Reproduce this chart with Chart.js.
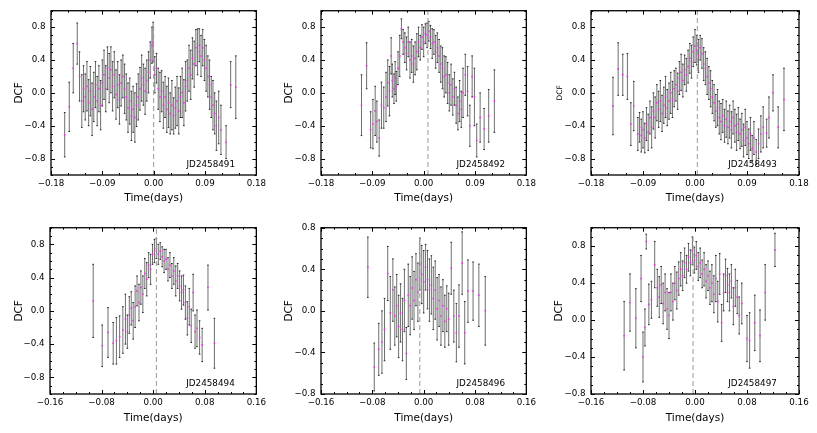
<!DOCTYPE html>
<html>
<head>
<meta charset="utf-8">
<script src="https://cdn.jsdelivr.net/npm/chart.js@4.4.0/dist/chart.umd.min.js"></script>
<style>
  html, body { margin: 0; padding: 0; background: #fff; }
  #wrap { position: relative; width: 817px; height: 433px; overflow: hidden; }
  .cell { position: absolute; }
</style>
</head>
<body>
<div id="wrap">
  <div class="cell" style="left:0;top:0;width:270px;height:217px"><canvas id="c491"></canvas></div>
  <div class="cell" style="left:270px;top:0;width:270px;height:217px"><canvas id="c492"></canvas></div>
  <div class="cell" style="left:540px;top:0;width:277px;height:217px"><canvas id="c493"></canvas></div>
  <div class="cell" style="left:0;top:217px;width:270px;height:216px"><canvas id="c494"></canvas></div>
  <div class="cell" style="left:270px;top:217px;width:270px;height:216px"><canvas id="c496"></canvas></div>
  <div class="cell" style="left:540px;top:217px;width:277px;height:216px"><canvas id="c497"></canvas></div>
</div>
<script>
// ---- data ----
const dates = ['JD2458491', 'JD2458492', 'JD2458493', 'JD2458494', 'JD2458496', 'JD2458497'];

const xTicksTop = [-0.18, -0.09, 0, 0.09, 0.18];
const xTicksBottom = [-0.16, -0.08, 0, 0.08, 0.16];
const yTicks = [-0.8, -0.4, 0, 0.4, 0.8];

// lag of the DCF peak (dashed line) and how high the dashed line reaches
const peakLag = [0.000, 0.0075, 0.004, 0.005, -0.006, -0.003];
const peakTop = [0.85, 1.0, 1.0, 1.0, 0.73, 0.93];

const lag491 = [-0.156,-0.148,-0.141,-0.134,-0.130,-0.126,-0.123,-0.120,-0.117,-0.114,-0.111,-0.108,-0.105,-0.102,-0.099,-0.096,-0.093,-0.090,-0.087,-0.084,-0.081,-0.078,-0.075,-0.072,-0.069,-0.066,-0.063,-0.060,-0.057,-0.054,-0.051,-0.048,-0.045,-0.042,-0.039,-0.036,-0.033,-0.030,-0.027,-0.024,-0.021,-0.018,-0.015,-0.012,-0.009,-0.006,-0.003,-0.001,0.002,0.005,0.008,0.011,0.014,0.017,0.020,0.023,0.026,0.029,0.032,0.035,0.038,0.041,0.044,0.047,0.050,0.053,0.056,0.059,0.062,0.065,0.068,0.071,0.074,0.077,0.080,0.083,0.086,0.089,0.092,0.095,0.098,0.101,0.104,0.107,0.110,0.114,0.118,0.127,0.135,0.144];
const dcf491 = [-0.51,-0.17,0.30,0.60,0.20,-0.10,0.05,-0.05,0.08,-0.12,0.02,-0.20,-0.05,0.10,-0.10,0.05,-0.15,0.12,0.22,0.05,0.30,0.18,0.28,0.08,0.22,-0.02,0.10,-0.08,0.12,0.20,0.05,-0.05,-0.18,-0.10,-0.28,-0.20,-0.30,-0.15,-0.05,0.05,0.18,0.10,0.02,0.15,0.25,0.40,0.58,0.62,0.22,0.30,0.05,-0.05,0.02,-0.15,-0.05,-0.20,-0.12,-0.25,-0.15,-0.28,-0.18,-0.10,-0.22,-0.05,0.00,-0.12,0.08,0.15,0.30,0.22,0.42,0.35,0.55,0.50,0.58,0.45,0.55,0.40,0.30,0.20,0.10,-0.05,-0.15,-0.25,-0.40,-0.30,-0.45,-0.60,0.10,0.07];
const err491 = [0.27,0.30,0.30,0.25,0.30,0.32,0.28,0.28,0.30,0.28,0.30,0.32,0.30,0.28,0.30,0.28,0.30,0.28,0.30,0.28,0.26,0.30,0.28,0.30,0.28,0.30,0.28,0.30,0.28,0.26,0.30,0.28,0.30,0.28,0.30,0.28,0.30,0.26,0.28,0.26,0.28,0.25,0.28,0.25,0.25,0.22,0.22,0.24,0.22,0.18,0.25,0.30,0.25,0.28,0.25,0.28,0.30,0.25,0.30,0.22,0.25,0.30,0.28,0.25,0.30,0.28,0.30,0.25,0.28,0.30,0.25,0.28,0.22,0.28,0.20,0.25,0.22,0.25,0.28,0.25,0.30,0.25,0.30,0.25,0.30,0.32,0.30,0.20,0.28,0.38];

const lag492 = [-0.109,-0.100,-0.093,-0.089,-0.085,-0.082,-0.078,-0.074,-0.070,-0.066,-0.063,-0.060,-0.057,-0.055,-0.052,-0.050,-0.048,-0.045,-0.042,-0.039,-0.036,-0.033,-0.030,-0.027,-0.024,-0.021,-0.018,-0.015,-0.012,-0.009,-0.006,-0.003,0.000,0.003,0.006,0.009,0.012,0.015,0.018,0.021,0.024,0.027,0.030,0.033,0.036,0.039,0.042,0.045,0.048,0.051,0.054,0.057,0.060,0.063,0.066,0.069,0.073,0.077,0.081,0.085,0.089,0.093,0.099,0.106,0.114,0.124];
const dcf492 = [-0.15,0.33,-0.45,-0.38,-0.22,-0.35,-0.55,-0.15,-0.18,-0.05,0.12,0.02,0.45,0.15,0.05,0.18,0.08,0.30,0.45,0.78,0.62,0.55,0.48,0.62,0.40,0.45,0.35,0.42,0.50,0.62,0.55,0.68,0.62,0.72,0.70,0.75,0.68,0.60,0.62,0.50,0.55,0.45,0.35,0.30,0.20,0.22,0.12,0.00,0.10,-0.05,0.05,-0.15,-0.25,-0.10,-0.20,0.00,0.22,0.02,-0.40,0.20,-0.05,-0.58,-0.30,-0.44,-0.28,-0.10];
const err492 = [0.37,0.28,0.22,0.30,0.30,0.25,0.22,0.28,0.25,0.30,0.28,0.30,0.22,0.20,0.18,0.20,0.18,0.20,0.25,0.12,0.15,0.18,0.20,0.18,0.22,0.20,0.22,0.20,0.22,0.18,0.15,0.15,0.18,0.12,0.15,0.12,0.14,0.18,0.15,0.20,0.18,0.20,0.22,0.25,0.25,0.22,0.25,0.22,0.25,0.22,0.20,0.22,0.20,0.25,0.22,0.30,0.25,0.30,0.25,0.25,0.35,0.20,0.30,0.25,0.32,0.38];

const lag493 = [-0.142,-0.133,-0.125,-0.117,-0.111,-0.106,-0.099,-0.096,-0.093,-0.090,-0.087,-0.084,-0.081,-0.078,-0.075,-0.072,-0.069,-0.066,-0.063,-0.060,-0.057,-0.054,-0.051,-0.048,-0.045,-0.042,-0.039,-0.036,-0.033,-0.030,-0.027,-0.024,-0.021,-0.018,-0.015,-0.012,-0.009,-0.006,-0.003,0.000,0.003,0.006,0.009,0.012,0.015,0.018,0.021,0.024,0.027,0.030,0.033,0.036,0.039,0.042,0.045,0.048,0.051,0.054,0.057,0.060,0.063,0.066,0.069,0.072,0.075,0.078,0.081,0.084,0.087,0.090,0.093,0.096,0.099,0.102,0.106,0.110,0.114,0.118,0.124,0.128,0.135,0.144,0.154];
const dcf493 = [-0.16,0.29,0.22,0.20,-0.38,-0.16,-0.50,-0.42,-0.52,-0.45,-0.55,-0.38,-0.48,-0.30,-0.42,-0.22,-0.30,-0.12,-0.20,-0.10,-0.25,-0.15,-0.05,-0.18,-0.10,0.00,-0.08,0.05,0.10,0.02,0.18,0.25,0.15,0.28,0.22,0.32,0.42,0.38,0.50,0.57,0.52,0.45,0.55,0.48,0.35,0.30,0.20,0.12,0.05,-0.05,-0.12,-0.22,-0.18,-0.30,-0.35,-0.28,-0.40,-0.32,-0.42,-0.35,-0.45,-0.30,-0.40,-0.48,-0.38,-0.50,-0.45,-0.58,-0.42,-0.55,-0.62,-0.50,-0.68,-0.55,-0.72,-0.62,-0.50,-0.42,-0.49,-0.30,0.00,-0.42,-0.08];
const err493 = [0.35,0.32,0.25,0.28,0.26,0.30,0.20,0.18,0.20,0.22,0.18,0.20,0.22,0.20,0.25,0.22,0.25,0.22,0.22,0.25,0.22,0.22,0.25,0.22,0.22,0.25,0.22,0.22,0.20,0.22,0.20,0.22,0.20,0.18,0.20,0.20,0.18,0.20,0.18,0.20,0.18,0.20,0.15,0.18,0.20,0.20,0.22,0.20,0.22,0.20,0.22,0.20,0.22,0.20,0.22,0.20,0.20,0.22,0.20,0.20,0.22,0.20,0.20,0.22,0.20,0.18,0.20,0.20,0.22,0.20,0.18,0.20,0.16,0.20,0.15,0.18,0.22,0.25,0.17,0.25,0.22,0.25,0.38];

const lag494 = [-0.093,-0.079,-0.070,-0.062,-0.057,-0.052,-0.047,-0.043,-0.040,-0.037,-0.034,-0.031,-0.028,-0.025,-0.022,-0.019,-0.016,-0.013,-0.010,-0.007,-0.004,-0.001,0.002,0.005,0.008,0.011,0.014,0.017,0.020,0.023,0.026,0.029,0.032,0.035,0.038,0.041,0.044,0.047,0.050,0.053,0.056,0.059,0.062,0.065,0.068,0.072,0.076,0.085,0.095];
const dcf494 = [0.12,-0.42,-0.26,-0.39,-0.36,-0.31,-0.23,-0.10,-0.25,-0.05,0.03,-0.12,0.05,0.24,0.10,0.28,0.20,0.45,0.38,0.55,0.50,0.68,0.72,0.75,0.68,0.72,0.65,0.60,0.62,0.50,0.55,0.42,0.48,0.36,0.42,0.30,0.22,0.25,0.10,-0.09,0.05,-0.18,0.22,-0.25,-0.21,-0.32,-0.41,0.28,-0.39];
const err494 = [0.44,0.25,0.30,0.25,0.28,0.25,0.28,0.30,0.20,0.22,0.20,0.22,0.25,0.18,0.22,0.20,0.22,0.18,0.20,0.15,0.18,0.12,0.14,0.12,0.12,0.10,0.12,0.14,0.12,0.14,0.15,0.15,0.16,0.18,0.15,0.18,0.20,0.18,0.20,0.20,0.22,0.20,0.22,0.20,0.22,0.20,0.20,0.27,0.30];

const lag496 = [-0.087,-0.077,-0.070,-0.065,-0.061,-0.056,-0.052,-0.048,-0.045,-0.042,-0.039,-0.036,-0.033,-0.030,-0.027,-0.024,-0.021,-0.018,-0.015,-0.012,-0.009,-0.006,-0.003,0.000,0.003,0.006,0.009,0.012,0.015,0.018,0.021,0.024,0.027,0.030,0.033,0.036,0.039,0.043,0.047,0.051,0.055,0.060,0.064,0.069,0.077,0.086,0.096];
const dcf496 = [0.42,-0.54,-0.37,-0.30,-0.18,0.36,-0.02,0.20,-0.05,0.05,-0.15,-0.02,-0.18,0.10,-0.41,0.15,0.05,0.22,0.10,0.30,0.18,0.45,0.35,0.28,0.42,0.30,0.20,0.25,0.12,0.20,0.02,0.10,-0.05,0.05,-0.10,0.02,-0.08,0.41,-0.05,-0.21,-0.05,0.46,-0.21,0.19,0.19,0.15,0.00];
const err496 = [0.29,0.23,0.25,0.30,0.30,0.26,0.35,0.30,0.28,0.30,0.30,0.28,0.30,0.30,0.25,0.30,0.28,0.30,0.28,0.25,0.28,0.25,0.28,0.30,0.22,0.28,0.30,0.28,0.30,0.28,0.30,0.25,0.28,0.25,0.25,0.22,0.25,0.25,0.25,0.28,0.30,0.30,0.30,0.30,0.28,0.30,0.33];

const lag497 = [-0.109,-0.100,-0.091,-0.083,-0.080,-0.077,-0.075,-0.071,-0.067,-0.062,-0.058,-0.055,-0.052,-0.049,-0.046,-0.043,-0.040,-0.037,-0.034,-0.031,-0.028,-0.025,-0.022,-0.019,-0.016,-0.013,-0.010,-0.007,-0.004,-0.001,0.002,0.005,0.008,0.011,0.014,0.017,0.020,0.023,0.026,0.029,0.032,0.035,0.038,0.041,0.044,0.047,0.050,0.053,0.056,0.059,0.062,0.065,0.068,0.072,0.080,0.084,0.092,0.100,0.108,0.123];
const dcf497 = [-0.17,0.19,0.02,0.45,-0.40,-0.08,0.85,0.17,0.22,0.60,0.35,0.25,0.38,0.18,0.30,0.12,0.05,0.30,0.20,0.40,0.32,0.45,0.55,0.48,0.62,0.55,0.68,0.62,0.75,0.65,0.70,0.58,0.62,0.50,0.55,0.42,0.48,0.35,0.40,0.28,0.45,0.20,0.50,-0.03,0.30,0.48,0.38,0.30,0.42,0.15,0.35,0.25,0.05,0.18,-0.20,-0.22,-0.03,-0.17,0.30,0.76];
const err497 = [0.37,0.31,0.32,0.25,0.27,0.20,0.08,0.22,0.20,0.25,0.20,0.22,0.20,0.22,0.20,0.22,0.25,0.20,0.20,0.18,0.20,0.18,0.18,0.16,0.16,0.15,0.15,0.14,0.15,0.14,0.15,0.15,0.16,0.15,0.18,0.18,0.16,0.18,0.20,0.20,0.25,0.22,0.22,0.20,0.20,0.18,0.18,0.20,0.18,0.20,0.20,0.18,0.20,0.22,0.25,0.30,0.30,0.28,0.30,0.18];

// ---- styling helpers ----
const FONT = 'DejaVu Sans';
const fmt = (v, d) => (v < 0 ? '\u2212' : '') + Math.abs(v).toFixed(d);

// error bars drawn through the chart scales
const errorBars = {
  id: 'errorBars',
  beforeDatasetsDraw(chart) {
    const { ctx, chartArea: a, scales: { x, y } } = chart;
    const ds = chart.data.datasets[0];
    ctx.save();
    ctx.beginPath();
    ctx.rect(a.left, a.top, a.right - a.left, a.bottom - a.top);
    ctx.clip();
    ds.data.forEach((p, i) => {
      const px = x.getPixelForValue(p.x);
      const top = y.getPixelForValue(p.y + ds.errors[i]);
      const bot = y.getPixelForValue(p.y - ds.errors[i]);
      ctx.strokeStyle = 'rgba(55,55,55,0.72)';
      ctx.lineWidth = 1;
      ctx.beginPath();
      ctx.moveTo(px, top);
      ctx.lineTo(px, bot);
      ctx.stroke();
      ctx.strokeStyle = '#222';
      ctx.beginPath();
      ctx.moveTo(px - 0.8, top); ctx.lineTo(px + 0.8, top);
      ctx.moveTo(px - 0.8, bot); ctx.lineTo(px + 0.8, bot);
      ctx.stroke();
    });
    ctx.restore();
  }
};

// black frame with inward major/minor ticks on all sides, plus the date label
const frame = {
  id: 'frame',
  afterDraw(chart, args, opts) {
    const { ctx, chartArea: a, scales: { x, y } } = chart;
    ctx.save();
    ctx.strokeStyle = '#000';
    ctx.lineWidth = 1;
    const tick = (axis, v, len) => {
      if (axis === 'x') {
        const p = Math.round(x.getPixelForValue(v)) + 0.5;
        ctx.moveTo(p, a.bottom); ctx.lineTo(p, a.bottom - len);
        ctx.moveTo(p, a.top); ctx.lineTo(p, a.top + len);
      } else {
        const p = Math.round(y.getPixelForValue(v)) + 0.5;
        ctx.moveTo(a.left, p); ctx.lineTo(a.left + len, p);
        ctx.moveTo(a.right, p); ctx.lineTo(a.right - len, p);
      }
    };
    ctx.beginPath();
    const nx = Math.round((x.max - x.min) / opts.xMinor);
    for (let i = 0; i <= nx; i++) tick('x', x.min + i * opts.xMinor, 2);
    const ny = Math.round((y.max - y.min) / 0.1);
    for (let i = 0; i <= ny; i++) tick('y', y.min + i * 0.1, 2);
    x.ticks.forEach(t => tick('x', t.value, 4));
    y.ticks.forEach(t => tick('y', t.value, 4));
    ctx.stroke();
    ctx.lineWidth = 1.3;
    ctx.strokeRect(a.left, a.top, a.right - a.left, a.bottom - a.top);
    ctx.fillStyle = '#000';
    ctx.font = '8.8px "' + FONT + '"';
    ctx.textBaseline = 'middle';
    ctx.fillText(opts.label, a.left + 0.66 * (a.right - a.left), a.bottom - 0.064 * (a.bottom - a.top));
    ctx.restore();
  }
};

function makePanel(id, k, lags, dcfs, errs, xTicks, xMinor, yMin, yMax, geom) {
  const pts = lags.map((l, i) => ({ x: l, y: dcfs[i] }));
  new Chart(document.getElementById(id), {
    type: 'scatter',
    data: {
      datasets: [{
        data: pts,
        errors: errs,
        pointRadius: 1,
        pointBorderWidth: 0,
        pointBackgroundColor: 'rgba(240,50,240,0.85)',
        order: 2
      }, {
        type: 'line',
        data: [{ x: peakLag[k], y: yMin }, { x: peakLag[k], y: peakTop[k] }],
        borderColor: '#9a9a9a',
        borderWidth: 1,
        borderDash: [5, 3],
        pointRadius: 0,
        order: 1
      }]
    },
    options: {
      responsive: true,
      maintainAspectRatio: false,
      animation: false,
      events: [],
      layout: { padding: { left: 0, right: geom.right, top: geom.top, bottom: 0 } },
      plugins: {
        legend: { display: false },
        tooltip: { enabled: false },
        frame: { xMinor: xMinor, label: dates[k] }
      },
      scales: {
        x: {
          type: 'linear',
          min: xTicks[0],
          max: xTicks[xTicks.length - 1],
          afterBuildTicks: s => { s.ticks = xTicks.map(v => ({ value: v })); },
          afterFit: s => { s.height = geom.xH; },
          grid: { display: false, drawTicks: false },
          border: { display: false },
          ticks: {
            autoSkip: false,
            maxRotation: 0,
            padding: 4,
            color: '#000',
            font: { family: FONT, size: 8.7 },
            callback: v => fmt(v, 2)
          },
          title: {
            display: true,
            text: 'Time(days)',
            color: '#000',
            font: { family: FONT, size: 10.5 },
            padding: { top: 0, bottom: geom.xPad }
          }
        },
        y: {
          min: yMin,
          max: yMax,
          afterBuildTicks: s => { s.ticks = yTicks.map(v => ({ value: v })); },
          afterFit: s => { s.width = geom.yW; },
          grid: { display: false, drawTicks: false },
          border: { display: false },
          ticks: {
            padding: 5.5,
            color: '#000',
            font: { family: FONT, size: 8.7 },
            callback: v => fmt(v, 1)
          },
          title: {
            display: true,
            text: 'DCF',
            color: '#000',
            font: { family: FONT, size: geom.ySize },
            padding: { top: geom.yPad, bottom: 0 }
          }
        }
      }
    },
    plugins: [errorBars, frame]
  });
}

const topRow = { top: 8, xH: 42, xPad: 12, yW: 51, right: 12, ySize: 10.5, yPad: 12.7 };
const botRow = { top: 9, xH: 39, xPad: 8.4, yW: 51, right: 12, ySize: 10.5, yPad: 12.7 };

makePanel('c491', 0, lag491, dcf491, err491, xTicksTop, 0.03, -1, 1, topRow);
makePanel('c492', 1, lag492, dcf492, err492, xTicksTop, 0.03, -1, 1, topRow);
makePanel('c493', 2, lag493, dcf493, err493, xTicksTop, 0.03, -1, 1, Object.assign({}, topRow, { right: 18, ySize: 7.5, yPad: 15.5 }));
makePanel('c494', 3, lag494, dcf494, err494, xTicksBottom, 0.02, -1, 1, Object.assign({}, botRow, { yW: 50 }));
makePanel('c496', 4, lag496, dcf496, err496, xTicksBottom, 0.02, -0.8, 0.8, botRow);
makePanel('c497', 5, lag497, dcf497, err497, xTicksBottom, 0.02, -0.8, 1.0, Object.assign({}, botRow, { right: 18 }));
</script>
</body>
</html>
